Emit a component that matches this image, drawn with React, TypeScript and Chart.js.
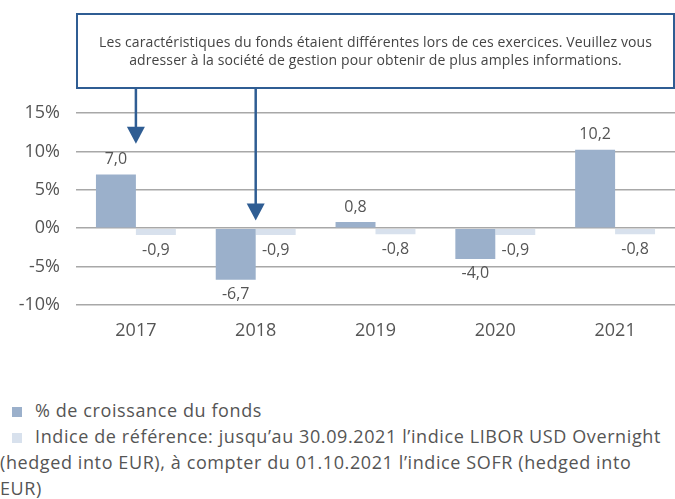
import React, { useEffect, useRef } from "react";
import { Chart, registerables } from "chart.js";

Chart.register(...registerables);

const categories = ["2017", "2018", "2019", "2020", "2021"];
const fundValues = [7.0, -6.7, 0.8, -4.0, 10.2];
const benchmarkValues = [-0.9, -0.9, -0.8, -0.9, -0.8];
const yTicks = [-10, -5, 0, 5, 10, 15];
const fundLabel = "% de croissance du fonds";
const benchmarkLabel =
  "Indice de référence: jusqu’au 30.09.2021 l’indice LIBOR USD Overnight (hedged into EUR), à compter du 01.10.2021 l’indice SOFR (hedged into EUR)";
const noteLines = [
  "Les caractéristiques du fonds étaient différentes lors de ces exercices. Veuillez vous",
  "adresser à la société de gestion pour obtenir de plus amples informations.",
];
const arrowCategories = ["2017", "2018"];
const arrowTips = [11, 1];

const FONT = "'Open Sans', sans-serif";
const TEXT = "#555555";
const FUND_COLOR = "#9bb0cb";
const BENCH_COLOR = "#d8e1ed";
const NAVY = "#2f5d93";

const fmt = (v: number) => v.toFixed(1).replace(".", ",");

const labelPlugin = {
  id: "valueLabels",
  afterDatasetsDraw(chart: any) {
    const ctx = chart.ctx;
    ctx.save();
    ctx.font = `16px ${FONT}`;
    ctx.fillStyle = TEXT;
    ctx.textAlign = "center";
    ctx.textBaseline = "middle";
    chart.data.datasets.forEach((ds: any, di: number) => {
      const meta = chart.getDatasetMeta(di);
      meta.data.forEach((bar: any, i: number) => {
        const v = ds.data[i];
        const y = v >= 0 ? bar.y - 15 : bar.y + 15;
        ctx.fillText(fmt(v), bar.x, y);
      });
    });
    ctx.restore();
  },
};

const notePlugin = {
  id: "noteBox",
  afterDraw(chart: any) {
    const ctx = chart.ctx;
    const area = chart.chartArea;
    const xs = chart.scales.x;
    const ys = chart.scales.y;
    const top = 14;
    const bottom = 88;
    ctx.save();
    ctx.strokeStyle = NAVY;
    ctx.lineWidth = 2;
    ctx.strokeRect(area.left + 1, top, area.right - area.left - 2, bottom - top);
    ctx.font = `14px ${FONT}`;
    try {
      (ctx as any).letterSpacing = "0.12px";
    } catch (e) {}
    ctx.fillStyle = "#444444";
    ctx.textAlign = "center";
    ctx.textBaseline = "middle";
    const cx = (area.left + area.right) / 2;
    ctx.fillText(noteLines[0], cx, 43);
    ctx.fillText(noteLines[1], cx, 61);
    arrowCategories.forEach((cat, i) => {
      const x = xs.getPixelForValue(categories.indexOf(cat));
      const tip = ys.getPixelForValue(arrowTips[i]);
      const headH = 17;
      const headW = 18;
      ctx.strokeStyle = NAVY;
      ctx.lineWidth = 2.5;
      ctx.beginPath();
      ctx.moveTo(x, bottom + 1);
      ctx.lineTo(x, tip - headH + 1);
      ctx.stroke();
      ctx.fillStyle = NAVY;
      ctx.beginPath();
      ctx.moveTo(x - headW / 2, tip - headH);
      ctx.lineTo(x + headW / 2, tip - headH);
      ctx.lineTo(x, tip);
      ctx.closePath();
      ctx.fill();
    });
    ctx.restore();
  },
};

export default function App() {
  const ref = useRef<HTMLCanvasElement | null>(null);

  useEffect(() => {
    if (!ref.current) return;
    const chart = new Chart(ref.current, {
      type: "bar",
      data: {
        labels: categories,
        datasets: [
          {
            label: fundLabel,
            data: fundValues,
            backgroundColor: FUND_COLOR,
            categoryPercentage: 0.667,
            barPercentage: 1,
          },
          {
            label: benchmarkLabel,
            data: benchmarkValues,
            backgroundColor: BENCH_COLOR,
            categoryPercentage: 0.667,
            barPercentage: 1,
          },
        ],
      },
      options: {
        responsive: false,
        animation: false,
        layout: { padding: { top: 113, left: 0, right: 0, bottom: 0 } },
        plugins: {
          legend: { display: false },
          tooltip: { enabled: false },
        },
        scales: {
          x: {
            grid: { display: false, drawTicks: false },
            border: { display: false },
            ticks: { color: TEXT, font: { family: FONT, size: 18 }, padding: 15 },
            afterFit: (s: any) => {
              s.height = 40;
            },
          },
          y: {
            min: -10,
            max: 15,
            afterBuildTicks: (s: any) => {
              s.ticks = yTicks.map((v) => ({ value: v }));
            },
            grid: { color: "#a8a8a8", lineWidth: 1.5, drawTicks: false },
            border: { display: false },
            ticks: {
              color: TEXT,
              font: { family: FONT, size: 18 },
              padding: 16,
              callback: (v: any) => `${v}%`,
            },
            afterFit: (s: any) => {
              s.width = 76;
            },
          },
        },
      },
      plugins: [labelPlugin, notePlugin],
    });
    return () => chart.destroy();
  }, []);

  const sq = (c: string) => (
    <span
      style={{
        display: "inline-block",
        width: 10,
        height: 10,
        background: c,
        marginLeft: 12,
        marginRight: 13,
        verticalAlign: "baseline",
      }}
    />
  );

  return (
    <div style={{ position: "absolute", left: 0, top: 0, width: 675, height: 499, background: "#fff", overflow: "hidden" }}>
      <canvas ref={ref} width={675} height={345} style={{ display: "block" }} />
      <div
        style={{
          position: "absolute",
          left: 0,
          top: 397,
          width: 668,
          fontFamily: FONT,
          fontSize: 18,
          letterSpacing: "0.6px",
          lineHeight: "26px",
          color: TEXT,
        }}
      >
        <div>
          {sq(FUND_COLOR)}
          {fundLabel}
        </div>
        <div>
          {sq(BENCH_COLOR)}
          {benchmarkLabel}
        </div>
      </div>
    </div>
  );
}
